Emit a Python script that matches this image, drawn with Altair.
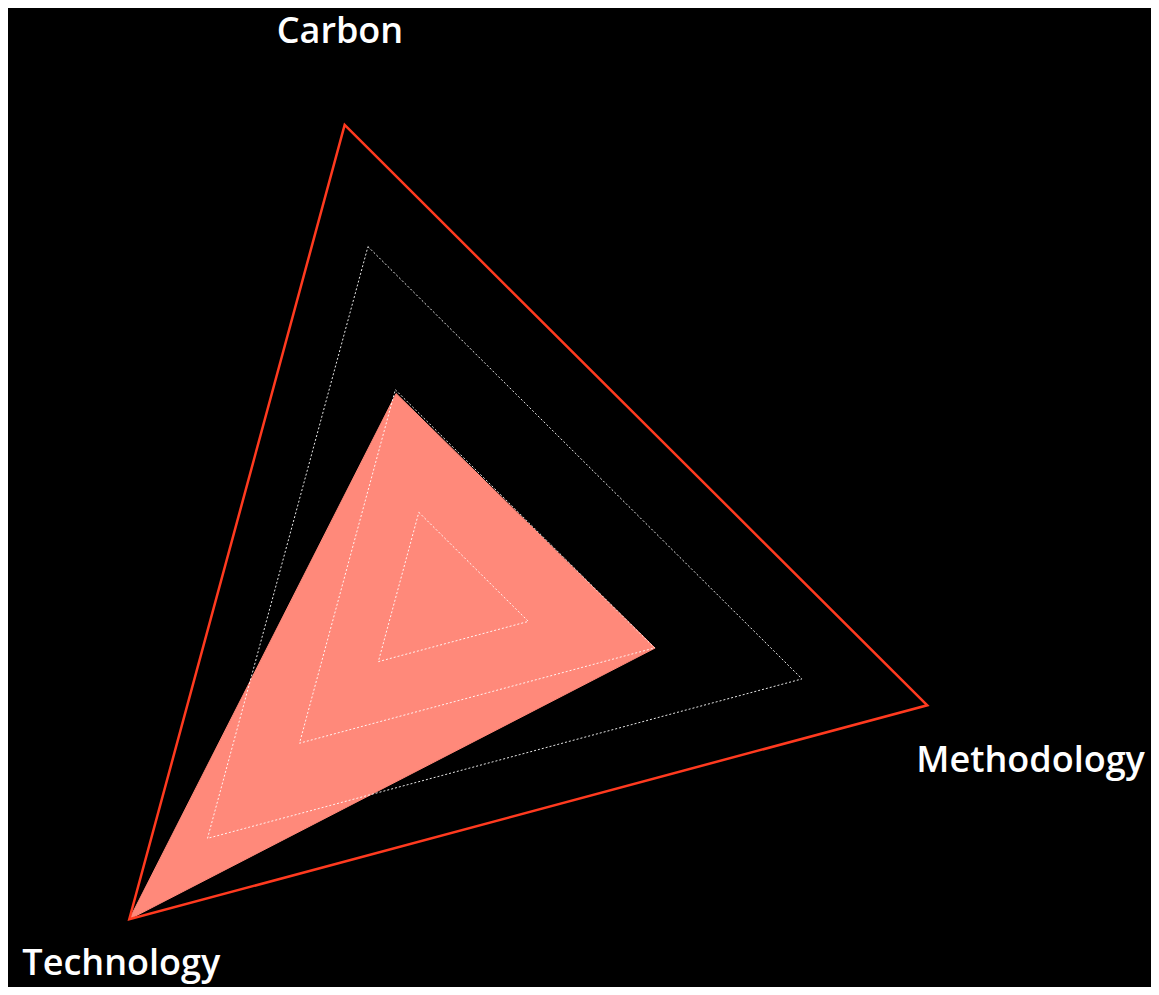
import altair as alt
import numpy as np
import pandas as pd

# ---- data (fraction of the outer ring) ----
axes = ["Carbon", "Methodology", "Technology"]
values = [0.437, 0.446, 1.0]
grid_levels = [0.188, 0.445, 0.745]
outer_level = 1.0

# ---- layout (plot-area pixels) ----
W, H = 1143, 979
cx, cy = 428.0, 594.0
axis_angle = [100.84, -11.87, -134.03]   # degrees, counter-clockwise from +x
axis_len = [485.7, 502.0, 441.3]
label_dx = [-4.7, -11.0, -8.0]
label_dy = [-82.0, 67.0, 55.5]
label_align = ["center", "left", "center"]


def pt(i, frac):
    a = np.deg2rad(axis_angle[i])
    return cx + axis_len[i] * frac * np.cos(a), cy - axis_len[i] * frac * np.sin(a)


def ring(level, name):
    rows = []
    for i, ax in enumerate(axes):
        x, y = pt(i, level)
        rows.append({"ring": name, "axis": ax, "order": i, "x": x, "y": y})
    return rows


grid_df = pd.DataFrame(sum([ring(l, f"g{k}") for k, l in enumerate(grid_levels)], []))
outer_df = pd.DataFrame(ring(outer_level, "outer"))
val_rows = []
for i, ax in enumerate(axes):
    x, y = pt(i, values[i])
    val_rows.append({"axis": ax, "order": i, "x": x, "y": y})
val_df = pd.DataFrame(val_rows)

lab_rows = []
for i, ax in enumerate(axes):
    x, y = pt(i, outer_level)
    lab_rows.append({"axis": ax, "x": x + label_dx[i], "y": y + label_dy[i], "align": label_align[i]})
lab_df = pd.DataFrame(lab_rows)

xs = alt.Scale(domain=[0, W], nice=False, zero=False)
ys = alt.Scale(domain=[0, H], nice=False, zero=False, reverse=True)
X = alt.X("x:Q", scale=xs, axis=None)
Y = alt.Y("y:Q", scale=ys, axis=None)

fill = alt.Chart(val_df).mark_line(
    interpolate="linear-closed", fill="#ff897a", fillOpacity=1, stroke="#ff897a", strokeWidth=1
).encode(x=X, y=Y, order="order:Q")

grids = alt.Chart(grid_df).mark_line(
    interpolate="linear-closed", color="white", strokeWidth=1, strokeDash=[2, 2], opacity=0.9
).encode(x=X, y=Y, detail="ring:N", order="order:Q")

outer = alt.Chart(outer_df).mark_line(
    interpolate="linear-closed", color="#ff3a1f", strokeWidth=2.5
).encode(x=X, y=Y, order="order:Q")

def label_layer(align):
    return alt.Chart(lab_df[lab_df["align"] == align]).mark_text(
        font="Open Sans", fontSize=36, fontWeight=600, color="white",
        align=align, baseline="alphabetic"
    ).encode(x=X, y=Y, text="axis:N")

chart = alt.layer(
    fill, grids, outer, label_layer("center"), label_layer("left")
).properties(
    width=W, height=H, padding=0, background="black",
    autosize=alt.AutoSizeParams(type="none")
).configure_view(stroke=None)

chart.save("out.html", embed_options={"renderer": "svg", "actions": False})
